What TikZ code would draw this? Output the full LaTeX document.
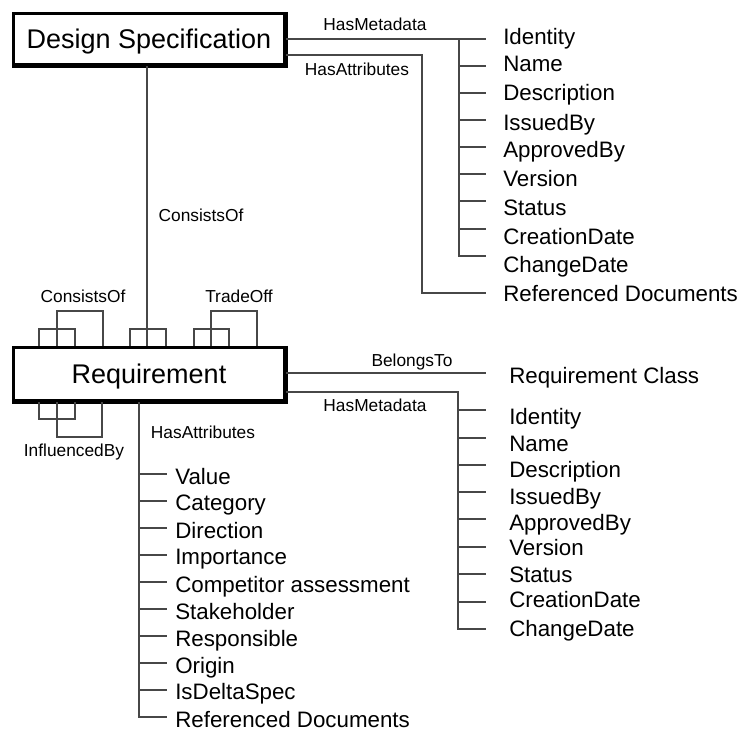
\documentclass[tikz,border=0pt]{standalone}
\usepackage{fontspec}
\setmainfont{Liberation Sans}
\begin{document}
\begin{tikzpicture}[x=0.75pt,y=-0.75pt,
  link/.style={draw=black!72, line width=0.8pt},
  entity/.style={draw=black, line width=2.25pt, fill=white, inner sep=0pt,
    minimum width=203.25pt, text height=14.5pt, text depth=0pt,
    font=\fontsize{20.25pt}{24pt}\selectfont},
  item/.style={anchor=base west, inner sep=0pt,
    font=\fontsize{16.75pt}{20pt}\selectfont},
  role/.style={inner sep=0pt, text height=9.3pt, text depth=0pt,
    font=\fontsize{13pt}{15pt}\selectfont},
]
\useasboundingbox (0,0) rectangle (744,731);

% the two main entities
\node[entity, minimum height=38.25pt] (ds)  at (149,39)  {Design Specification};
\node[entity, minimum height=39.75pt] (req) at (149,374) {Requirement};
% heavier right and bottom edges
\foreach \b in {ds,req}{
  \draw[line width=1.2pt] ([xshift=0.6pt]\b.north east) -- ([xshift=0.6pt,yshift=-0.6pt]\b.south east)
        -- ([yshift=-0.6pt]\b.south west);
}

% ---------- Design Specification: metadata ----------
\foreach \t/\y [count=\i] in {Identity/36.7,Name/64,Description/93,IssuedBy/122.5,
    ApprovedBy/150,Version/178.5,Status/208,CreationDate/237,ChangeDate/265}
  \node[item] (dm\i) at (503,{\y+8}) {\t};
\node[item] (dmref) at (503,{294+8}) {Referenced Documents};
\foreach \k [count=\i] in {39,66,93,120,147,174,201,229,256}
  \coordinate (dmk\i) at (486,\k);
\coordinate (dmtop) at (459,39);
\coordinate (datop) at (422,55);
\coordinate (dak) at (486,293);
\draw[link] (ds.east |- dmtop) -- (dmk1);
\draw[link] (dmtop) |- (dmk9);
\foreach \i in {2,...,8} \draw[link] (dmtop |- dmk\i) -- (dmk\i);
\draw[link] (ds.east |- datop) -- (datop) |- (dak);
\node[role] (lblhm1) at (375,24) {HasMetadata};
\node[role] (lblha1) at (357,69) {HasAttributes};

% ---------- Design Specification consists of Requirements ----------
\draw[link] ([xshift=-1.5pt]ds.south) -- ([xshift=-1.5pt]req.north);
\node[role] (lblco) at (201,215) {ConsistsOf};

% ---------- self relations of Requirement ----------
\draw[link] (req.north) ++(-110,0) -- ++(0,-17) -- ++(36,0) -- ++(0,17);
\draw[link] (req.north) ++(-92,0)  -- ++(0,-35) -- ++(46,0) -- ++(0,35);
\draw[link] (req.north) ++(-19,0)  -- ++(0,-17) -- ++(36,0) -- ++(0,17);
\draw[link] (req.north) ++(45,0)   -- ++(0,-17) -- ++(35,0) -- ++(0,17);
\draw[link] (req.north) ++(62,0)   -- ++(0,-35) -- ++(46,0) -- ++(0,35);
\draw[link] (req.south) ++(-110,0) -- ++(0,17)  -- ++(36,0) -- ++(0,-17);
\draw[link] (req.south) ++(-92,0)  -- ++(0,35)  -- ++(45,0) -- ++(0,-35);
\node[role] (lblcoself) at (83,296)  {ConsistsOf};
\node[role] (lbltrade)  at (239,296) {TradeOff};
\node[role] (lblinfl)   at (74,450)  {InfluencedBy};

% ---------- Requirement: class and metadata ----------
\coordinate (rck) at (486,373);
\draw[link] (req.east |- rck) -- (rck);
\node[item] (rclass) at (509,{376+8}) {Requirement Class};
\node[role] (lblbt) at (412,360) {BelongsTo};

\foreach \t/\y [count=\i] in {Identity/417,Name/444,Description/470,IssuedBy/496,
    ApprovedBy/523,Version/548,Status/574,CreationDate/600,ChangeDate/628}
  \node[item] (rm\i) at (509,{\y+8}) {\t};
\foreach \k [count=\i] in {410,438,465,492,519,547,574,602,629}
  \coordinate (rmk\i) at (486,\k);
\coordinate (rmtop) at (458,392);
\draw[link] (req.east |- rmtop) -- (rmtop) |- (rmk9);
\foreach \i in {1,...,8} \draw[link] (rmtop |- rmk\i) -- (rmk\i);
\node[role] (lblhm2) at (375,405) {HasMetadata};

% ---------- Requirement: attributes ----------
\foreach \t/\y [count=\i] in {Value/476,Category/503,Direction/530,Importance/557,
    Competitor assessment/584,Stakeholder/611,Responsible/638,Origin/665,
    IsDeltaSpec/692,Referenced Documents/719}
  \node[item] (ra\i) at (175,{\y+8}) {\t};
\foreach \k [count=\i] in {474,501,528,555,582,609,636,663,690,717}
  \coordinate (rak\i) at (167,\k);
\coordinate (ratop) at (139,402);
\draw[link] ([xshift=-7.5pt]req.south) |- (rak10);
\foreach \i in {1,...,9} \draw[link] (ratop |- rak\i) -- (rak\i);
\node[role] (lblha2) at (203,432) {HasAttributes};

\end{tikzpicture}
\end{document}
